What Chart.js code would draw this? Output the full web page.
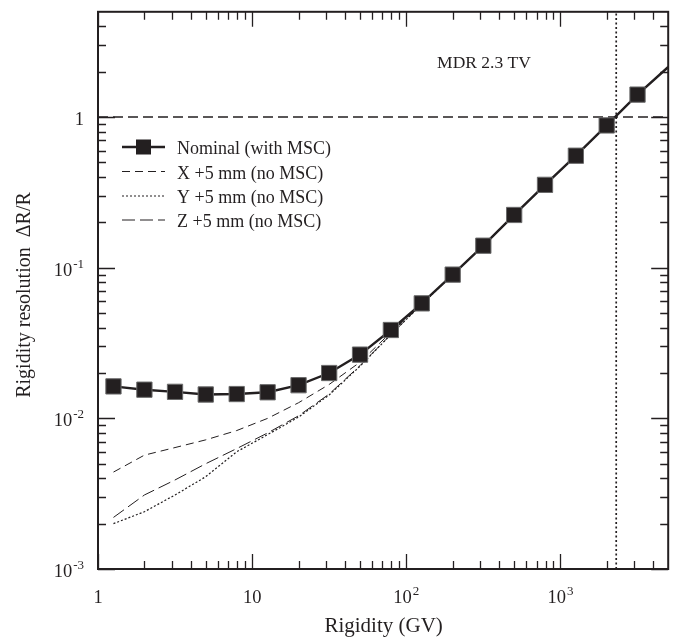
<!DOCTYPE html>
<html>
<head>
<meta charset="utf-8">
<title>Rigidity resolution</title>
<script src="https://cdn.jsdelivr.net/npm/chart.js@4.4.1/dist/chart.umd.min.js"></script>
<style>
  html, body { margin: 0; padding: 0; background: #fff; }
  canvas { display: block; }
</style>
</head>
<body>
<canvas id="resChart" width="680" height="641"></canvas>
<script>
// ---- data (rigidity in GV, resolution dR/R) ----
const rigidity = [1.26, 2.0, 3.16, 5.0, 7.94, 12.6, 20.0, 31.6, 50.1, 79.4, 126, 200, 316, 501, 794, 1259, 1995, 3162, 5000];
const nominal  = [0.0163, 0.0155, 0.0150, 0.0144, 0.0145, 0.0149, 0.0166, 0.0200, 0.0265, 0.0386, 0.0580, 0.090, 0.140, 0.224, 0.355, 0.554, 0.88, 1.41, 2.15];
const shiftX   = [0.0044, 0.0057, 0.0064, 0.0072, 0.0083, 0.0100, 0.0127, 0.0168, 0.0236, 0.0372, 0.0575, 0.090, 0.140, 0.224, 0.355, 0.554, 0.88, 1.41, 2.15];
const shiftY   = [0.0020, 0.0024, 0.0031, 0.0041, 0.0060, 0.0078, 0.0102, 0.0143, 0.0222, 0.0360, 0.0572, 0.090, 0.140, 0.224, 0.355, 0.554, 0.88, 1.41, 2.15];
const shiftZ   = [0.0022, 0.0031, 0.0039, 0.0050, 0.0063, 0.0080, 0.0104, 0.0145, 0.0224, 0.0360, 0.0572, 0.090, 0.140, 0.224, 0.355, 0.554, 0.88, 1.41, 2.15];
// markers on every sample except the end of the curve
const markerShown = [1, 1, 1, 1, 1, 1, 1, 1, 1, 1, 1, 1, 1, 1, 1, 1, 1, 1, 0];

const mdrRigidity = 2300;   // maximum detectable rigidity (GV)
const unitLevel = 1;        // dR/R = 1

const seriesLabels = ['Nominal (with MSC)', 'X +5 mm (no MSC)', 'Y +5 mm (no MSC)', 'Z +5 mm (no MSC)'];

const xRange = [1, 5000];
const yRange = [0.001, 5];
const xTickValues = [1, 10, 100, 1000];
const xTickLabels = ['1', '10', '10^2', '10^3'];
const yTickValues = [0.001, 0.01, 0.1, 1];
const yTickLabels = ['10^-3', '10^-2', '10^-1', '1'];

const ink = '#231f20';
const serif = '"Liberation Serif", "Times New Roman", serif';

function points(ys) {
  return rigidity.map((r, i) => ({ x: r, y: ys[i] }));
}

// minor log ticks (2..9 in each decade) inside [min, max]
function minorTicks(min, max) {
  const out = [];
  for (let e = Math.floor(Math.log10(min)); e <= Math.ceil(Math.log10(max)); e++) {
    for (let m = 2; m <= 9; m++) {
      const v = m * Math.pow(10, e);
      if (v > min && v < max) out.push(v);
    }
  }
  return out;
}

// "10^2" style label: base text plus raised exponent
function drawPow(ctx, label, px, baseline, align) {
  const [base, sup] = label.split('^');
  ctx.font = '18.5px ' + serif;
  const wb = ctx.measureText(base).width;
  ctx.font = '13px ' + serif;
  const ws = sup ? ctx.measureText(sup).width + 1 : 0;
  const total = wb + ws;
  let x0 = align === 'right' ? px - total : px - total / 2;
  ctx.textAlign = 'left';
  ctx.textBaseline = 'alphabetic';
  ctx.font = '18.5px ' + serif;
  ctx.fillText(base, x0, baseline);
  if (sup) {
    ctx.font = '13px ' + serif;
    ctx.fillText(sup, x0 + wb + 1, baseline - 8);
  }
}

const frameAndText = {
  id: 'frameAndText',
  afterDraw(chart) {
    const { ctx, chartArea: a, scales: { x, y } } = chart;
    ctx.save();
    ctx.strokeStyle = ink;
    ctx.fillStyle = ink;

    // inward ticks on all four sides
    ctx.lineWidth = 1.3;
    ctx.beginPath();
    const tickX = (v, len) => {
      const px = Math.round(x.getPixelForValue(v)) + 0.5;
      ctx.moveTo(px, a.bottom); ctx.lineTo(px, a.bottom - len);
      ctx.moveTo(px, a.top); ctx.lineTo(px, a.top + len);
    };
    const tickY = (v, len) => {
      const py = Math.round(y.getPixelForValue(v)) + 0.5;
      ctx.moveTo(a.left, py); ctx.lineTo(a.left + len, py);
      ctx.moveTo(a.right, py); ctx.lineTo(a.right - len, py);
    };
    xTickValues.forEach(v => tickX(v, 15));
    minorTicks(xRange[0], xRange[1]).forEach(v => tickX(v, 8));
    yTickValues.forEach(v => tickY(v, 17));
    minorTicks(yRange[0], yRange[1]).forEach(v => tickY(v, 8));
    ctx.stroke();

    // frame
    ctx.lineWidth = 2;
    ctx.strokeRect(a.left, a.top, a.right - a.left, a.bottom - a.top);

    // tick labels
    xTickValues.forEach((v, i) => drawPow(ctx, xTickLabels[i], x.getPixelForValue(v), a.bottom + 34, 'center'));
    yTickValues.forEach((v, i) => drawPow(ctx, yTickLabels[i], a.left - 14, y.getPixelForValue(v) + 8, 'right'));

    // axis titles
    ctx.textAlign = 'center';
    ctx.textBaseline = 'alphabetic';
    ctx.font = '21px ' + serif;
    ctx.fillText('Rigidity (GV)', (a.left + a.right) / 2 + 0.5, 632);
    ctx.save();
    ctx.translate(30, 295);
    ctx.rotate(-Math.PI / 2);
    ctx.font = '20px ' + serif;
    ctx.fillText('Rigidity resolution  \u0394R/R', 0, 0);
    ctx.restore();

    // MDR annotation
    ctx.font = '17.5px ' + serif;
    ctx.fillText('MDR 2.3 TV', 484, 68);

    // legend, samples taken from the dataset styles
    const rows = [147, 171.5, 196, 220];
    const sx0 = a.left + 24, sx1 = a.left + 67;
    chart.data.datasets.slice(0, 4).forEach((ds, i) => {
      const ry = rows[i];
      ctx.save();
      ctx.lineWidth = ds.borderWidth;
      ctx.setLineDash(ds.borderDash || []);
      ctx.beginPath();
      ctx.moveTo(sx0, ry); ctx.lineTo(sx1, ry);
      ctx.stroke();
      ctx.restore();
      if (i === 0) {
        const s = 15;
        ctx.fillStyle = ink;
        ctx.fillRect((sx0 + sx1) / 2 - s / 2, ry - s / 2, s, s);
      }
      ctx.fillStyle = ink;
      ctx.textAlign = 'left';
      ctx.font = '18px ' + serif;
      ctx.fillText(ds.label, sx1 + 12, ry + 7);
    });
    ctx.restore();
  }
};

new Chart(document.getElementById('resChart'), {
  type: 'line',
  data: {
    datasets: [
      {
        label: seriesLabels[0],
        data: points(nominal),
        borderColor: ink,
        borderWidth: 2.4,
        pointStyle: 'rect',
        pointRadius: markerShown.map(m => m ? 10.8 : 0),
        pointBackgroundColor: ink,
        pointBorderColor: '#6a6a6a',
        pointBorderWidth: 1,
      },
      {
        label: seriesLabels[1],
        data: points(shiftX),
        borderColor: ink,
        borderWidth: 1,
        borderDash: [8, 5],
        pointRadius: 0,
      },
      {
        label: seriesLabels[2],
        data: points(shiftY),
        borderColor: ink,
        borderWidth: 1.2,
        borderDash: [2, 2],
        pointRadius: 0,
      },
      {
        label: seriesLabels[3],
        data: points(shiftZ),
        borderColor: ink,
        borderWidth: 1,
        borderDash: [13, 5],
        pointRadius: 0,
      },
      {
        label: 'unit',
        data: [{ x: xRange[0], y: unitLevel }, { x: xRange[1], y: unitLevel }],
        borderColor: ink,
        borderWidth: 1.5,
        borderDash: [10, 5],
        pointRadius: 0,
      },
      {
        label: 'mdr',
        data: [{ x: mdrRigidity, y: yRange[0] }, { x: mdrRigidity, y: yRange[1] }],
        borderColor: ink,
        borderWidth: 1.7,
        borderDash: [2, 2.5],
        pointRadius: 0,
      },
    ]
  },
  options: {
    responsive: false,
    animation: false,
    layout: { padding: { left: 98, right: 9, top: 7, bottom: 72 } },
    plugins: {
      legend: { display: false },
      tooltip: { enabled: false },
    },
    scales: {
      x: { type: 'logarithmic', min: xRange[0], max: xRange[1], display: false },
      y: { type: 'logarithmic', min: yRange[0], max: yRange[1], display: false },
    }
  },
  plugins: [frameAndText]
});
</script>
</body>
</html>
